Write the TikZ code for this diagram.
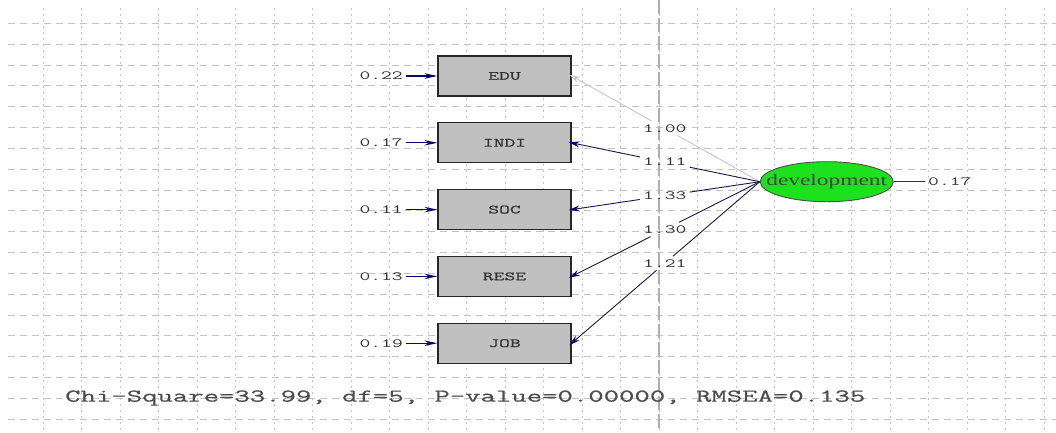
\documentclass[tikz,border=0pt]{standalone}
\usepackage{fontspec}
\usetikzlibrary{arrows.meta,shapes.geometric}
\newfontfamily\lisnum[FakeStretch=1.68]{Latin Modern Mono}
\newfontfamily\lisbox[FakeStretch=1.68,FakeBold=1.2]{Latin Modern Mono}
\newfontfamily\lisbig[FakeStretch=1.66,FakeBold=0.6]{Latin Modern Mono}
\newfontfamily\lisser[FakeStretch=1.46]{Liberation Serif}
\definecolor{gridc}{RGB}{195,195,195}
\definecolor{axisc}{RGB}{175,175,175}
\definecolor{boxc}{RGB}{192,192,192}
\definecolor{pathc}{RGB}{25,25,80}
\definecolor{headc}{RGB}{10,10,110}
\definecolor{devc}{RGB}{30,225,30}
\definecolor{txtc}{RGB}{50,50,50}
\definecolor{edgec}{RGB}{195,195,195}
\tikzset{
  hgrid/.style={gridc, line width=0.8pt, dash pattern=on 7pt off 5pt},
  vgrid/.style={gridc, line width=0.8pt, dash pattern=on 2pt off 4pt},
  axisline/.style={axisc, line width=1.6pt, dash pattern=on 14pt off 4pt},
  obsbox/.style={draw=black!85, line width=1.3pt, fill=boxc, minimum width=133pt, minimum height=40pt, inner sep=0pt,
    font=\lisbox\fontsize{12.5}{14}\selectfont, text=black!80},
  latentell/.style={ellipse, draw=black!70, line width=0.9pt, fill=devc, minimum width=133pt, minimum height=40pt, inner sep=0pt,
    font=\lisser\fontsize{16}{18}\selectfont, text=black!75},
  numlbl/.style={inner sep=3pt, font=\lisnum\fontsize{12.5}{14}\selectfont, text=txtc},
  statstxt/.style={inner sep=2pt, font=\lisbig\fontsize{18}{20}\selectfont, text=black!70},
  pathline/.style={pathc, line width=0.9pt},
  patharr/.style={pathc, line width=0.9pt, -{Stealth[length=11pt,width=6pt,color=headc]}, shorten >=-3pt},
  grayline/.style={edgec, line width=0.8pt},
  grayarr/.style={edgec, line width=0.8pt, -{Stealth[length=11pt,width=6pt,open]}, shorten >=-3pt},
  errarr/.style={headc, line width=1.1pt, -{Stealth[length=13pt,width=5.5pt]}},
  errline/.style={black!80, line width=0.8pt}
}
\begin{document}
\begin{tikzpicture}[x=1pt,y=-1pt]
\useasboundingbox (0,0) rectangle (1056,432);
\fill[white] (0,0) rectangle (1056,432);
% grid
\foreach \k in {0,...,19} \draw[hgrid] (8,{23.3+20.83*\k}) -- (1056,{23.3+20.83*\k});
\foreach \k in {0,...,26} \draw[vgrid] ({43.3+38.49*\k},8) -- ({43.3+38.49*\k},432);
\draw[axisline] (658.7,0) -- (658.7,432);
% observed variables
\node[obsbox] (edu)  at (504.5,76)    {EDU};
\node[obsbox] (indi) at (504.5,142.8) {INDI};
\node[obsbox] (soc)  at (504.5,209.6) {SOC};
\node[obsbox] (rese) at (504.5,276.4) {RESE};
\node[obsbox] (job)  at (504.5,343.2) {JOB};
% latent variable
\node[latentell] (dev) at (826.7,181.7) {\makebox[0pt]{development}};
% error variances of observed
\node[numlbl, anchor=east] (e1) at (406,76)    {0.22};
\node[numlbl, anchor=east] (e2) at (406,142.8) {0.17};
\node[numlbl, anchor=east] (e3) at (406,209.6) {0.11};
\node[numlbl, anchor=east] (e4) at (406,276.4) {0.13};
\node[numlbl, anchor=east] (e5) at (406,343.2) {0.19};
\draw[errarr] (e1) -- (edu.west);
\draw[errarr] (e2) -- (indi.west);
\draw[errarr] (e3) -- (soc.west);
\draw[errarr] (e4) -- (rese.west);
\draw[errarr] (e5) -- (job.west);
% error of latent
\node[numlbl, anchor=west] (e6) at (925,181.7) {0.17};
\draw[errline] (dev.east) -- (e6);
% loadings
\path (dev.west) -- (edu.east)  node[numlbl, pos=0.505] (l1) {1.00};
\path (dev.west) -- (indi.east) node[numlbl, pos=0.505] (l2) {1.11};
\path (dev.west) -- (soc.east)  node[numlbl, pos=0.505] (l3) {1.33};
\path (dev.west) -- (rese.east) node[numlbl, pos=0.505] (l4) {1.30};
\path (dev.west) -- (job.east)  node[numlbl, pos=0.505] (l5) {1.21};
\draw[grayline] (dev.west) -- (l1);
\draw[grayarr] (l1) -- (edu.east);
\draw[pathline] (dev.west) -- (l2);
\draw[patharr] (l2) -- (indi.east);
\draw[pathline] (dev.west) -- (l3);
\draw[patharr] (l3) -- (soc.east);
\draw[pathline] (dev.west) -- (l4);
\draw[patharr] (l4) -- (rese.east);
\draw[pathline] (dev.west) -- (l5);
\draw[patharr] (l5) -- (job.east);
% fit statistics
\node[statstxt, anchor=west] (chi) at (63,398) {Chi-Square=33.99, df=5, P-value=0.00000, RMSEA=0.135};
\end{tikzpicture}
\end{document}
